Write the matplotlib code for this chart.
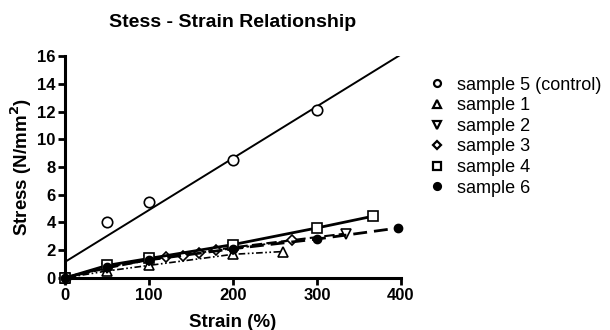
import numpy as np
import matplotlib.pyplot as plt

s5_x = [0, 50, 100, 200, 300]
s5_y = [0, 4.0, 5.5, 8.5, 12.1]
s1_x = [0, 50, 100, 200, 260]
s1_y = [0, 0.5, 0.9, 1.7, 1.9]
s2_x = [0, 50, 100, 200, 335]
s2_y = [0, 0.7, 1.3, 2.2, 3.2]
s3_x = [0, 50, 100, 120, 140, 160, 180, 200, 270]
s3_y = [0, 0.8, 1.3, 1.5, 1.6, 1.8, 2.0, 2.1, 2.7]
s4_x = [0, 50, 100, 200, 300, 367]
s4_y = [0, 0.9, 1.4, 2.4, 3.6, 4.45]
s6_x = [0, 50, 100, 200, 300, 397]
s6_y = [0, 0.8, 1.3, 2.1, 2.8, 3.6]

plt.rcParams['font.family'] = ['Liberation Sans', 'DejaVu Sans']
plt.rcParams['font.weight'] = 'bold'

fig = plt.figure(figsize=(6.1, 3.3), dpi=100)
ax = fig.add_axes([0.107, 0.158, 0.55, 0.672])

# control: linear fit over 0..400
k, b = np.polyfit(s5_x, s5_y, 1)
fx = np.array([0, 400])
ax.plot(fx, k * fx + b, color='black', lw=1.4)
ax.plot(s5_x, s5_y, 'o', mfc='white', mec='black', ms=7.5, mew=1.2,
        ls='none', label='sample 5 (control)', clip_on=False)

ax.plot(s1_x, s1_y, color='black', lw=1.2, ls=(0, (4, 1.5, 1, 1.5, 1, 1.5)),
        marker='^', mfc='white', mec='black', ms=7, mew=1.2, label='sample 1', clip_on=False)
ax.plot(s2_x, s2_y, color='black', lw=1.5, ls=(0, (5, 2)),
        marker='v', mfc='white', mec='black', ms=7, mew=1.2, label='sample 2', clip_on=False)
ax.plot(s3_x, s3_y, color='black', lw=1.3, ls=(0, (1.5, 1.5)),
        marker='D', mfc='white', mec='black', ms=5, mew=1.2, label='sample 3', clip_on=False)
ax.plot(s4_x, s4_y, color='black', lw=2.0, ls='-',
        marker='s', mfc='white', mec='black', ms=7, mew=1.2, label='sample 4', clip_on=False)
ax.plot(s6_x, s6_y, color='black', lw=2.0, ls=(0, (5, 2.5)),
        marker='o', mfc='black', mec='black', ms=6, label='sample 6', clip_on=False)

ax.set_xlim(0, 400)
ax.set_ylim(0, 16)
ax.set_xticks([0, 100, 200, 300, 400])
ax.set_yticks(range(0, 17, 2))
for s in ['top', 'right']:
    ax.spines[s].set_visible(False)
for s in ['left', 'bottom']:
    ax.spines[s].set_linewidth(2.2)
ax.tick_params(width=2, length=5, labelsize=12, pad=2)
ax.set_xlabel('Strain (%)', fontsize=13.5, fontweight='bold', labelpad=8)
ax.set_ylabel('Stress (N/mm$^\\mathbf{2}$)', fontsize=13.5, fontweight='bold', labelpad=2)
ax.set_title('Stess - Strain Relationship', fontsize=14, fontweight='bold', pad=21)

h, l = ax.get_legend_handles_labels()
ms = {'o': 5, '^': 6, 'v': 6, 'D': 4.5, 's': 6}
h = [plt.Line2D([], [], ls='none', marker=x.get_marker(), mfc=x.get_mfc(),
                mec='black', ms=ms.get(x.get_marker(), 5), mew=1.6) for x in h]
leg = ax.legend(h, l, loc='upper left', bbox_to_anchor=(1.06, 0.94), frameon=False,
                handlelength=1, handletextpad=0.6, labelspacing=0.2,
                borderaxespad=0, prop={'size': 13, 'weight': 'normal'})

fig.savefig('out.png', dpi=100)
